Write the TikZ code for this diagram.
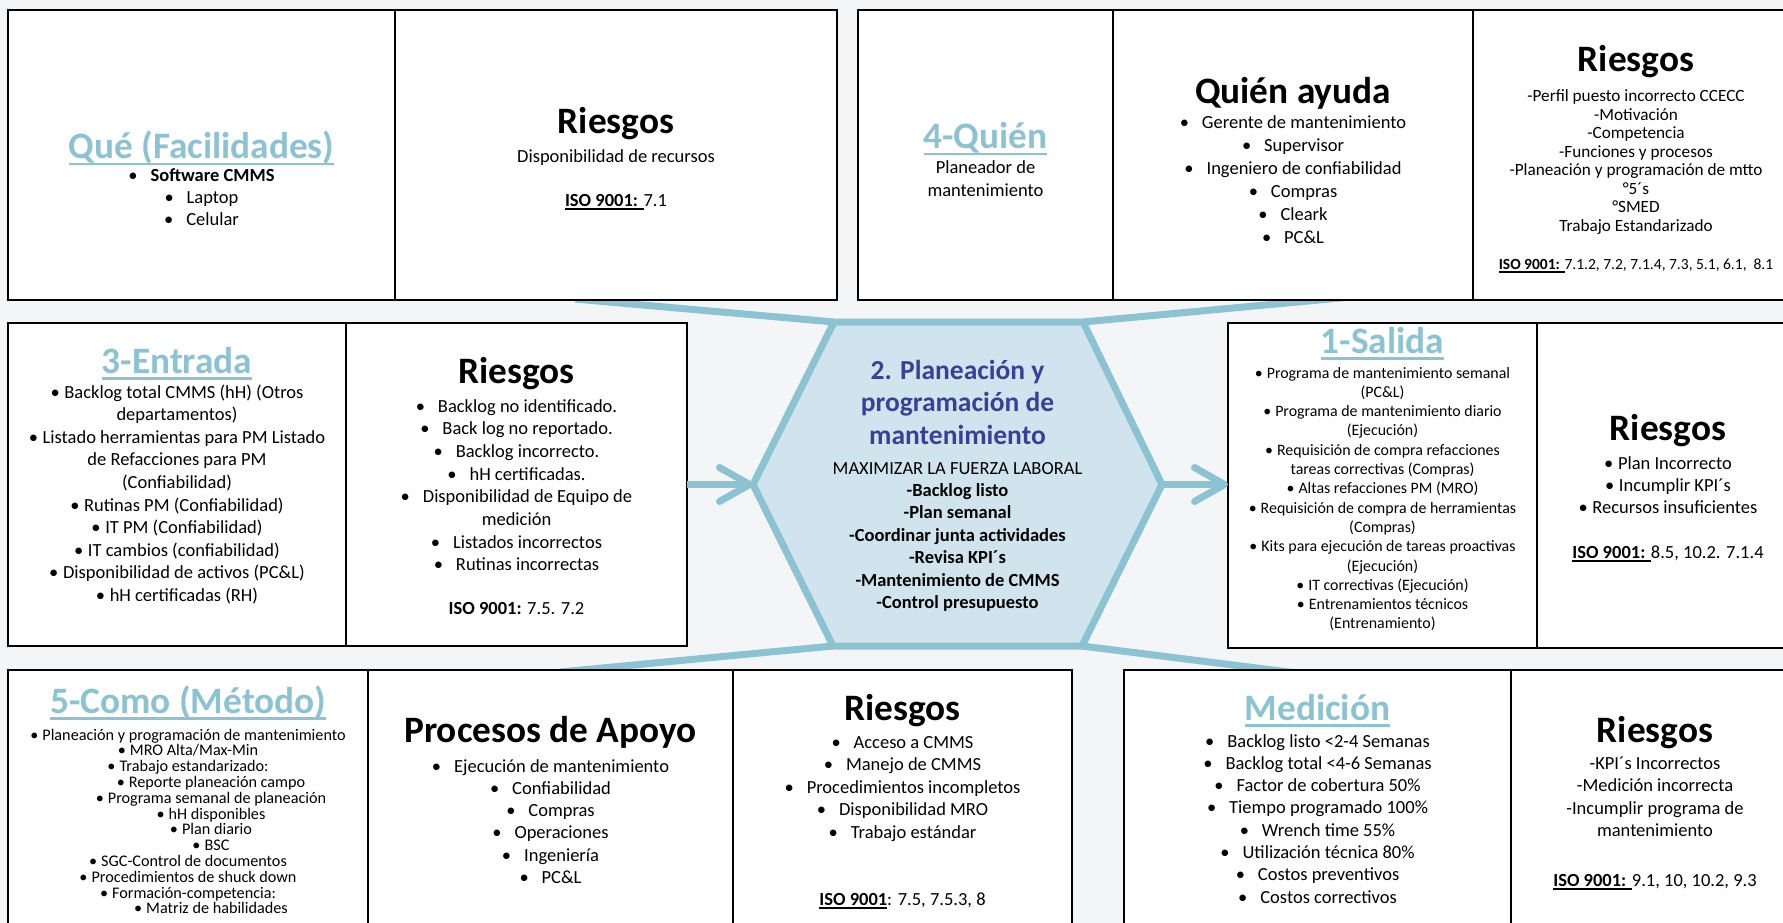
\documentclass[tikz,border=0pt]{standalone}
\usepackage{fontspec}
\setmainfont{Carlito}
\usetikzlibrary{arrows.meta}
\definecolor{bg}{HTML}{F3F5F7}
\definecolor{hexline}{HTML}{8CC3D2}
\definecolor{hexfill}{HTML}{CFE4EC}
\definecolor{ttl}{HTML}{8CC3D3}
\definecolor{hexttl}{HTML}{3C3F98}
\newcommand\myul[3]{\leavevmode\setbox0=\hbox{#3}\rlap{\rule[-#1]{\wd0}{#2}}\box0\relax}
\newcommand\blk[3]{\parbox[t]{480pt}{\centering\fontsize{#1}{#2}\selectfont #3\par}}
\newcommand\ttlfont{\fontsize{37.3}{44}\selectfont\bfseries}
\newcommand\tul[1]{{\color{ttl}\myul{6.5pt}{2.4pt}{#1}}}
\newcommand\iso[1]{\myul{4pt}{1.6pt}{\textbf{#1}}}
\newcommand\bulw{•\hspace{.7em}}
\newcommand\buln{•\hspace{.25em}}
\newcommand\ind{\hspace*{46pt}}
\tikzset{
  box/.style={draw=black, line width=2.6pt, fill=white, rectangle, inner sep=0pt, outer sep=0pt, anchor=north west},
  txt/.style={anchor=base, inner sep=0pt, outer sep=0pt},
  conn/.style={draw=hexline, line width=7pt},
  arr/.style={conn, -{Straight Barb[length=30pt,width=34pt,round]}},
}
\begin{document}
\begin{tikzpicture}[x=1pt,y=-1pt]
\useasboundingbox (0,0) rectangle (1783,923);
\clip (0,0) rectangle (1783,923);
\fill[bg] (0,0) rectangle (1783,923);

% hexagon corners
\coordinate (h1) at (834,322);
\coordinate (h2) at (1083,322);
\coordinate (hR) at (1162,484.5);
\coordinate (h3) at (1082,646);
\coordinate (h4) at (833,646);
\coordinate (hL) at (753,484.5);
% free ends of the funnel lines
\coordinate (fTL) at (575,299);
\coordinate (fTR) at (1380,294.3);
\coordinate (fBL) at (560,672);
\coordinate (fBR) at (1300,673.4);

\draw[conn] (h1) -- (fTL);
\draw[conn] (h2) -- (fTR);
\draw[conn] (h4) -- (fBL);
\draw[conn] (h3) -- (fBR);

% boxes
\node[box, minimum width=387pt, minimum height=290pt] (A) at (8,10) {};
\node[box, minimum width=442pt, minimum height=290pt] (B) at (395,10) {};
\node[box, minimum width=255pt, minimum height=290pt] (C) at (858,10) {};
\node[box, minimum width=360pt, minimum height=290pt] (D) at (1113,10) {};
\node[box, minimum width=326pt, minimum height=290pt] (E) at (1473,10) {};
\node[box, minimum width=338pt, minimum height=323pt] (F) at (8,323) {};
\node[box, minimum width=341pt, minimum height=323pt] (G) at (346,323) {};
\node[box, minimum width=309pt, minimum height=325pt] (H) at (1228,323) {};
\node[box, minimum width=262pt, minimum height=325pt] (I) at (1537,323) {};
\node[box, minimum width=360pt, minimum height=260pt] (J) at (8,670) {};
\node[box, minimum width=365pt, minimum height=260pt] (K) at (368,670) {};
\node[box, minimum width=339pt, minimum height=260pt] (L) at (733,670) {};
\node[box, minimum width=387pt, minimum height=260pt] (M) at (1124,670) {};
\node[box, minimum width=288pt, minimum height=260pt] (N) at (1511,670) {};

% hexagon
\draw[hexline, line width=7pt, fill=hexfill, line join=miter] (h1) -- (h2) -- (hR) -- (h3) -- (h4) -- (hL) -- cycle;
\draw[arr] (G.east) -- (hL);
\draw[arr] (hR) -- (hR -| H.west);

% Box A
\node[txt] (At) at (201.5,159) {\ttlfont\tul{Qué (Facilidades)}};
\node[txt] (Ab) at (201.5,182) {\blk{18.5}{21.6}{\bulw\textbf{Software CMMS}\\\bulw Laptop\\\bulw Celular}};
% Box B
\node[txt] (Bt) at (616,134) {\ttlfont Riesgos};
\node[txt] (Bb) at (616,162) {\blk{18.5}{22.5}{Disponibilidad de recursos}};
\node[txt] (Bi) at (616,206) {\blk{18.5}{22.5}{\iso{ISO 9001: }7.1}};
% Box C
\node[txt] (Ct) at (985.5,148.5) {\ttlfont\tul{4-Quién}};
\node[txt] (Cb) at (985.5,173) {\blk{18.5}{24}{Planeador de\\mantenimiento}};
% Box D
\node[txt] (Dt) at (1293,103.5) {\ttlfont Quién ayuda};
\node[txt] (Db) at (1293,129) {\blk{18.5}{23}{\bulw Gerente de mantenimiento\\\bulw Supervisor\\\bulw Ingeniero de confiabilidad\\\bulw Compras\\\bulw Cleark\\\bulw PC\&L}};
% Box E
\node[txt] (Et) at (1636,72) {\ttlfont Riesgos};
\node[txt] (Eb) at (1636,102) {\blk{17.2}{18.5}{-Perfil puesto incorrecto CCECC\\-Motivación\\-Competencia\\-Funciones y procesos\\-Planeación y programación de mtto\\°5´s\\°SMED\\Trabajo Estandarizado}};
\node[txt] (Ei) at (1636,269) {\blk{15.5}{18.5}{\iso{ISO 9001: }7.1.2, 7.2, 7.1.4, 7.3, 5.1, 6.1,\ \ 8.1}};
% Box F
\node[txt] (Ft) at (177,373) {\ttlfont\tul{3-Entrada}};
\node[txt] (Fb) at (177,398) {\blk{18.5}{22.6}{\buln Backlog total CMMS (hH) (Otros\\departamentos)\\\buln Listado herramientas para PM Listado\\de Refacciones para PM\\(Confiabilidad)\\\buln Rutinas PM (Confiabilidad)\\\buln IT PM (Confiabilidad)\\\buln IT cambios (confiabilidad)\\\buln Disponibilidad de activos (PC\&L)\\\buln hH certificadas (RH)}};
% Box G
\node[txt] (Gt) at (516.5,383) {\ttlfont Riesgos};
\node[txt] (Gb) at (516.5,412) {\blk{18.5}{22.7}{\bulw Backlog no identificado.\\\bulw Back log no reportado.\\\bulw Backlog incorrecto.\\\bulw hH certificadas.\\\bulw Disponibilidad de Equipo de\\medición\\\bulw Listados incorrectos\\\bulw Rutinas incorrectas}};
\node[txt] (Gi) at (516.5,614) {\blk{18.5}{22.3}{\textbf{ISO 9001:} 7.5. 7.2}};
% Hexagon text
\node[txt] (Xt) at (957.5,360) {\blk{27.5}{32.5}{\bfseries\color{hexttl}2. Planeación y\\programación de\\mantenimiento}};
\node[txt] (Xb) at (957.5,474) {\blk{18.5}{22.4}{MAXIMIZAR LA FUERZA LABORAL\\\textbf{-Backlog listo}\\\textbf{-Plan semanal}\\\textbf{-Coordinar junta actividades}\\\textbf{-Revisa KPI´s}\\\textbf{-Mantenimiento de CMMS}\\\textbf{-Control presupuesto}}};
% Box H
\node[txt] (Ht) at (1382.5,353) {\ttlfont\tul{1-Salida}};
\node[txt] (Hb) at (1382.5,378) {\blk{15.9}{19.3}{\buln Programa de mantenimiento semanal\\(PC\&L)\\\buln Programa de mantenimiento diario\\(Ejecución)\\\buln Requisición de compra refacciones\\tareas correctivas (Compras)\\\buln Altas refacciones PM (MRO)\\\buln Requisición de compra de herramientas\\(Compras)\\\buln Kits para ejecución de tareas proactivas\\(Ejecución)\\\buln IT correctivas (Ejecución)\\\buln Entrenamientos técnicos\\(Entrenamiento)}};
% Box I
\node[txt] (It) at (1668,440) {\ttlfont Riesgos};
\node[txt] (Ib) at (1668,469) {\blk{18.5}{22}{\buln Plan Incorrecto\\\buln Incumplir KPI´s\\\buln Recursos insuficientes}};
\node[txt] (Ii) at (1668,558) {\blk{18.5}{22}{\iso{ISO 9001: }8.5, 10.2. 7.1.4}};
% Box J
\node[txt] (Jt) at (188,713) {\ttlfont\tul{5-Como (Método)}};
\node[txt] (Jb) at (188,740) {\blk{16.2}{15.8}{\buln Planeación y programación de mantenimiento\\\buln MRO Alta/Max-Min\\\buln Trabajo estandarizado:\\\ind\buln Reporte planeación campo\\\ind\buln Programa semanal de planeación\\\ind\buln hH disponibles\\\ind\buln Plan diario\\\ind\buln BSC\\\buln SGC-Control de documentos\\\buln Procedimientos de shuck down\\\buln Formación-competencia:\\\ind\buln Matriz de habilidades}};
% Box K
\node[txt] (Kt) at (550.5,742) {\ttlfont Procesos de Apoyo};
\node[txt] (Kb) at (550.5,772) {\blk{18.5}{22.3}{\bulw Ejecución de mantenimiento\\\bulw Confiabilidad\\\bulw Compras\\\bulw Operaciones\\\bulw Ingeniería\\\bulw PC\&L}};
% Box L
\node[txt] (Lt) at (902.5,720) {\ttlfont Riesgos};
\node[txt] (Lb) at (902.5,748) {\blk{18.5}{22.5}{\bulw Acceso a CMMS\\\bulw Manejo de CMMS\\\bulw Procedimientos incompletos\\\bulw Disponibilidad MRO\\\bulw Trabajo estándar}};
\node[txt] (Li) at (902.5,905) {\blk{18.5}{22.5}{\iso{ISO 9001}: 7.5, 7.5.3, 8}};
% Box M
\node[txt] (Mt) at (1317.5,720) {\ttlfont\tul{Medición}};
\node[txt] (Mb) at (1317.5,747) {\blk{18.5}{22.3}{\bulw Backlog listo <2-4 Semanas\\\bulw Backlog total <4-6 Semanas\\\bulw Factor de cobertura 50\%\\\bulw Tiempo programado 100\%\\\bulw Wrench time 55\%\\\bulw Utilización técnica 80\%\\\bulw Costos preventivos\\\bulw Costos correctivos}};
% Box N
\node[txt] (Nt) at (1655,742) {\ttlfont Riesgos};
\node[txt] (Nb) at (1655,769) {\blk{18.5}{22.5}{-KPI´s Incorrectos\\-Medición incorrecta\\-Incumplir programa de\\mantenimiento}};
\node[txt] (Ni) at (1655,886) {\blk{18.5}{22.5}{\iso{ISO 9001: }9.1, 10, 10.2, 9.3}};
\end{tikzpicture}
\end{document}
